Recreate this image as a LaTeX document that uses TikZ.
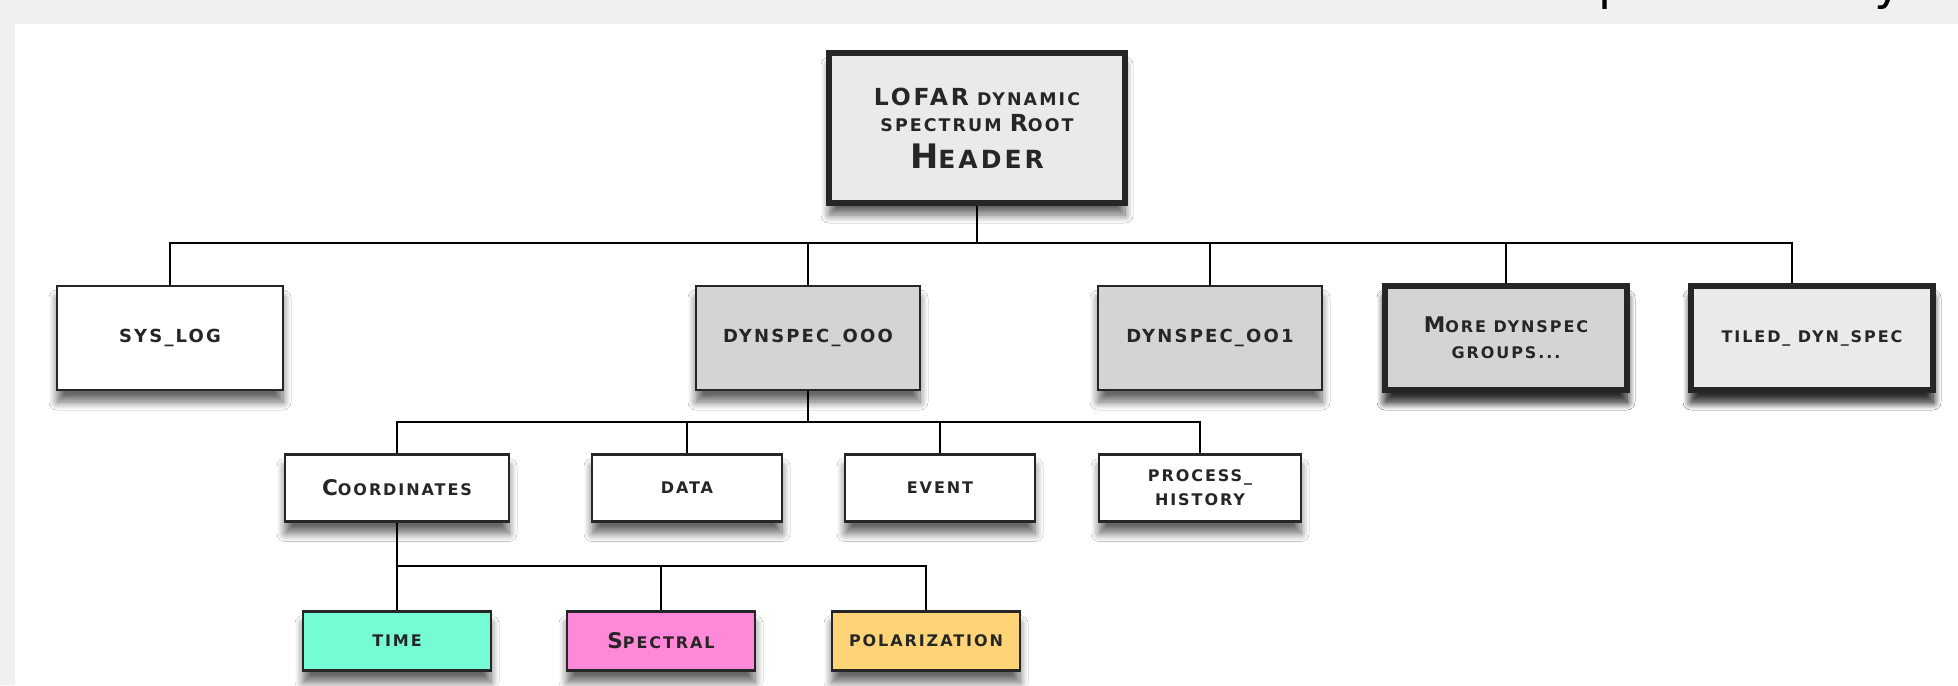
\documentclass[tikz,border=0pt]{standalone}
\usepackage{fontspec}
\usepackage{graphicx}
\newfontfamily\boxfont[LetterSpace=12]{DejaVu Sans Bold}
\newfontfamily\capfont{DejaVu Sans}
\usetikzlibrary{shadows.blur}
\definecolor{rootgray}{HTML}{EAEAEA}
\definecolor{groupgray}{HTML}{D4D4D4}
\definecolor{timecol}{HTML}{76FCD5}
\definecolor{spectcol}{HTML}{FF88D9}
\definecolor{polcol}{HTML}{FFD477}
\definecolor{pagegray}{HTML}{F0F0F0}
\newcommand{\hicap}[1]{\scalebox{1.35}{#1}}

\begin{document}
\begin{tikzpicture}[x=0.5pt, y=-0.5pt]
                \tikzset{BoxStyle/.style= {rectangle, draw=black!85, line width=1.3pt, align=center, text=black!85,
                        font=\boxfont\fontsize{8}{10}\selectfont,
                        blur shadow={shadow xshift=0pt, shadow yshift=-6pt, shadow opacity=60, shadow blur radius=4pt, shadow blur steps=10}}}
                \tikzset{ThickStyle/.style= {BoxStyle, line width=2.6pt}}
                \tikzset{GroupStyle/.style= {BoxStyle, minimum height=52pt, font=\boxfont\fontsize{9}{12}\selectfont}}
                \tikzset{LeafStyle/.style= {BoxStyle, minimum height=33.5pt}}
                \tikzset{EdgeStyle/.style= {draw=black, line width=1pt}}
                % page
                \fill[pagegray] (0,0) rectangle (1958,685);
                \fill[white] (15,24) rectangle (1958,685);
                \begin{scope}
                \clip (0,0) rectangle (1958,24);
                \node[anchor=base west, inner sep=0pt, font=\capfont\fontsize{24}{24}\selectfont] (capp) at (1598,-1) {p};
                \node[anchor=base west, inner sep=0pt, font=\capfont\fontsize{24}{24}\selectfont] (capy) at (1874,-1) {y};
                \end{scope}

                % root
                \node[ThickStyle, fill=rootgray, minimum width=148pt, minimum height=75pt] (root) at (977,128)
                        {{\fontsize{8.7}{10}\selectfont\hicap{LOFAR} DYNAMIC}\\[3pt]
                         {\fontsize{8.7}{10}\selectfont SPECTRUM \hicap{R}OOT}\\[5pt]
                         {\fontsize{12.5}{14}\selectfont\hicap{H}EADER}};

                % level 1
                \node[GroupStyle, fill=white, minimum width=113pt] (syslog) at (170,338) {SYS\_LOG};
                \node[GroupStyle, fill=groupgray, minimum width=112pt] (dyn000) at (808,338) {DYNSPEC\_OOO};
                \node[GroupStyle, fill=groupgray, minimum width=112pt] (dyn001) at (1210,338) {DYNSPEC\_OO1};
                \node[GroupStyle, ThickStyle, fill=groupgray, minimum width=121pt] (moredyn) at (1506,338) {\hicap{M}ORE DYNSPEC\\[3pt] GROUPS...};
                \node[GroupStyle, ThickStyle, fill=rootgray, minimum width=121pt] (tiled) at (1812,338) {TILED\_ DYN\_SPEC};

                % level 2
                \node[LeafStyle, fill=white, minimum width=112pt] (coords) at (397,488) {\hicap{C}OORDINATES};
                \node[LeafStyle, fill=white, minimum width=95pt] (data) at (687,488) {DATA};
                \node[LeafStyle, fill=white, minimum width=95pt] (event) at (940,488) {EVENT};
                \node[LeafStyle, fill=white, minimum width=101pt] (prochist) at (1200,488) {PROCESS\_\\[2pt] HISTORY};

                % level 3
                \node[LeafStyle, fill=timecol, minimum width=94pt, minimum height=29.5pt] (time) at (397,641) {TIME};
                \node[LeafStyle, fill=spectcol, minimum width=94pt, minimum height=29.5pt] (spectral) at (661,641) {\hicap{S}PECTRAL};
                \node[LeafStyle, fill=polcol, minimum width=94pt, minimum height=29.5pt] (polar) at (926,641) {POLARIZATION};

                % connectors
                \coordinate (rootbus) at (977,243);
                \coordinate (dynbus) at (808,422);
                \coordinate (coordbus) at (397,566);
                \foreach \child in {syslog,dyn000,dyn001,moredyn}
                        \draw[EdgeStyle] (root.south) -- (rootbus) -| (\child.north);
                \draw[EdgeStyle] (root.south) -- (rootbus) -| ([xshift=-10pt]tiled.north);
                \foreach \child in {coords,data,event,prochist}
                        \draw[EdgeStyle] (dyn000.south) -- (dynbus) -| (\child.north);
                \foreach \child in {time,spectral,polar}
                        \draw[EdgeStyle] (coords.south) -- (coordbus) -| (\child.north);

\end{tikzpicture}
\end{document}
